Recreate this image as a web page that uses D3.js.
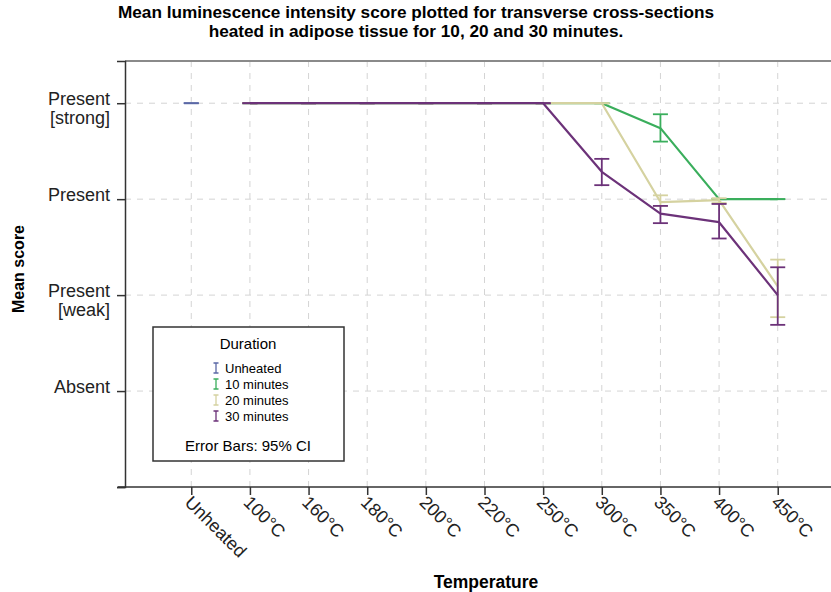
<!DOCTYPE html>
<html>
<head>
<meta charset="utf-8">
<script src="https://cdn.jsdelivr.net/npm/d3@7"></script>
<style>
  body { margin: 0; background: #fff; }
  svg { font-family: "Liberation Sans", Arial, sans-serif; }
</style>
</head>
<body>
<div id="chart"></div>
<script>
// categories on the x axis
const categories = ['Unheated', '100°C', '160°C', '180°C', '200°C', '220°C', '250°C', '300°C', '350°C', '400°C', '450°C'];
const heated = categories.slice(1);

// y tick labels (score 0..3)
const scoreLabels = [
    { value: 3, lines: ['Present', '[strong]'] },
    { value: 2, lines: ['Present'] },
    { value: 1, lines: ['Present', '[weak]'] },
    { value: 0, lines: ['Absent'] },
    { value: -1, lines: [] }
];

// mean scores and 95% CI
const unheatedMean = [3];
const unheatedLow = [3];
const unheatedHigh = [3];

const tenMean = [3, 3, 3, 3, 3, 3, 3, 2.74, 2, 2];
const tenLow = [3, 3, 3, 3, 3, 3, 3, 2.60, 2, 2];
const tenHigh = [3, 3, 3, 3, 3, 3, 3, 2.885, 2, 2];

const twentyMean = [3, 3, 3, 3, 3, 3, 3, 1.97, 1.99, 1.09];
const twentyLow = [3, 3, 3, 3, 3, 3, 3, 1.93, 1.96, 0.77];
const twentyHigh = [3, 3, 3, 3, 3, 3, 3, 2.04, 2.01, 1.37];

const thirtyMean = [3, 3, 3, 3, 3, 3, 2.285, 1.85, 1.76, 1.0];
const thirtyLow = [3, 3, 3, 3, 3, 3, 2.146, 1.75, 1.59, 0.69];
const thirtyHigh = [3, 3, 3, 3, 3, 3, 2.42, 1.93, 1.95, 1.29];

const seriesNames = ['Unheated', '10 minutes', '20 minutes', '30 minutes'];
const seriesColors = ['#5b68a6', '#3aae5c', '#d5d2a0', '#6c3279'];

const width = 831, height = 592;
const margin = { top: 61, left: 125, bottom: 487, right: 844 };

const svg = d3.select('#chart').append('svg')
    .attr('width', width)
    .attr('height', height);

// Build series list from the arrays
const series = [
    { name: seriesNames[0], color: seriesColors[0], cats: ['Unheated'], mean: unheatedMean, low: unheatedLow, high: unheatedHigh },
    { name: seriesNames[1], color: seriesColors[1], cats: heated, mean: tenMean, low: tenLow, high: tenHigh },
    { name: seriesNames[2], color: seriesColors[2], cats: heated, mean: twentyMean, low: twentyLow, high: twentyHigh },
    { name: seriesNames[3], color: seriesColors[3], cats: heated, mean: thirtyMean, low: thirtyLow, high: thirtyHigh }
].map(s => ({
    ...s,
    points: s.cats.map((c, i) => ({ cat: c, mean: s.mean[i], low: s.low[i], high: s.high[i] }))
}));

const x = d3.scalePoint()
    .domain(categories)
    .range([margin.left, margin.right])
    .padding(1.13);

const y = d3.scaleLinear()
    .domain([-1, 3.44])
    .range([margin.bottom, margin.top]);

// Grid lines
const grid = svg.append('g').attr('class', 'grid')
    .attr('stroke', '#d4d4d4')
    .attr('stroke-width', 1)
    .attr('stroke-dasharray', '6,6');

grid.selectAll('line.v')
    .data(categories)
    .join('line')
    .attr('class', 'v')
    .attr('x1', d => x(d)).attr('x2', d => x(d))
    .attr('y1', margin.top).attr('y2', margin.bottom);

grid.selectAll('line.h')
    .data(scoreLabels.filter(d => d.value >= 0))
    .join('line')
    .attr('class', 'h')
    .attr('x1', margin.left).attr('x2', width)
    .attr('y1', d => y(d.value)).attr('y2', d => y(d.value));

// Top frame line
svg.append('line')
    .attr('x1', margin.left).attr('x2', width)
    .attr('y1', margin.top).attr('y2', margin.top)
    .attr('stroke', '#8a8a8a')
    .attr('stroke-width', 2);

// Lines and error bars
const line = d3.line()
    .x(d => x(d.cat))
    .y(d => y(d.mean));

const capHalf = 7.5;

series.forEach(s => {
    const g = svg.append('g').attr('class', 'series');

    if (s.points.length > 1) {
        g.append('path')
            .datum(s.points)
            .attr('fill', 'none')
            .attr('stroke', s.color)
            .attr('stroke-width', 2.2)
            .attr('stroke-linejoin', 'round')
            .attr('d', line);
    }

    const bars = g.selectAll('g.bar')
        .data(s.points)
        .join('g')
        .attr('class', 'bar')
        .attr('stroke', s.color)
        .attr('stroke-width', 1.8);

    bars.append('line')
        .attr('x1', d => x(d.cat)).attr('x2', d => x(d.cat))
        .attr('y1', d => y(d.low)).attr('y2', d => y(d.high));

    bars.append('line')
        .attr('x1', d => x(d.cat) - capHalf).attr('x2', d => x(d.cat) + capHalf)
        .attr('y1', d => y(d.low)).attr('y2', d => y(d.low));

    bars.append('line')
        .attr('x1', d => x(d.cat) - capHalf).attr('x2', d => x(d.cat) + capHalf)
        .attr('y1', d => y(d.high)).attr('y2', d => y(d.high));
});

// Y axis
const yAxis = svg.append('g')
    .attr('transform', `translate(${margin.left},0)`)
    .call(d3.axisLeft(y)
        .tickValues(scoreLabels.map(d => d.value))
        .tickSize(8)
        .tickFormat(''));

yAxis.select('.domain').attr('stroke', '#333').attr('stroke-width', 1.5);
yAxis.selectAll('.tick line').attr('stroke', '#333').attr('stroke-width', 1.5);

const yLabels = svg.append('g');
scoreLabels.forEach(d => {
    const t = yLabels.append('text')
        .attr('text-anchor', 'end')
        .attr('font-size', 18)
        .attr('fill', '#222')
        .attr('x', 110)
        .attr('y', y(d.value) + 2);
    d.lines.forEach((ln, i) => {
        t.append('tspan')
            .attr('x', 110)
            .attr('dy', i === 0 ? 0 : 19)
            .text(ln);
    });
});

// X axis
const xAxis = svg.append('g')
    .attr('transform', `translate(0,${margin.bottom})`)
    .call(d3.axisBottom(x).tickSize(8).tickSizeOuter(0).tickFormat(''));

xAxis.select('.domain').attr('stroke', '#333').attr('stroke-width', 1.5)
    .attr('d', `M${margin.left - 7},0H${width}`);
xAxis.selectAll('.tick line').attr('stroke', '#333').attr('stroke-width', 1.5);

svg.append('g')
    .selectAll('text')
    .data(categories)
    .join('text')
    .attr('transform', d => `translate(${x(d) - 3},${margin.bottom + 12}) rotate(45)`)
    .attr('text-anchor', 'start')
    .attr('dy', '0.35em')
    .attr('font-size', 18)
    .attr('fill', '#222')
    .text(d => d);

// Axis titles
svg.append('text')
    .attr('x', 486)
    .attr('y', 588)
    .attr('text-anchor', 'middle')
    .attr('font-size', 17.5)
    .attr('font-weight', 'bold')
    .text('Temperature');

svg.append('text')
    .attr('transform', 'translate(24,269) rotate(-90)')
    .attr('text-anchor', 'middle')
    .attr('font-size', 16)
    .attr('font-weight', 'bold')
    .text('Mean score');

// Title
const title = svg.append('text')
    .attr('text-anchor', 'middle')
    .attr('font-size', 17.2)
    .attr('font-weight', 'bold');
title.append('tspan').attr('x', 416).attr('y', 18)
    .text('Mean luminescence intensity score plotted for transverse cross-sections');
title.append('tspan').attr('x', 416).attr('y', 37)
    .text('heated in adipose tissue for 10, 20 and 30 minutes.');

// Legend
const legend = svg.append('g').attr('transform', 'translate(153,327)');

legend.append('rect')
    .attr('width', 191)
    .attr('height', 134)
    .attr('fill', '#fff')
    .attr('stroke', '#333')
    .attr('stroke-width', 1.5);

legend.append('text')
    .attr('x', 95)
    .attr('y', 22)
    .attr('text-anchor', 'middle')
    .attr('font-size', 15)
    .text('Duration');

const items = legend.selectAll('g.item')
    .data(series)
    .join('g')
    .attr('class', 'item')
    .attr('transform', (d, i) => `translate(63,${41 + i * 16})`);

items.append('path')
    .attr('d', 'M-2.5,-5H2.5M0,-5V5M-2.5,5H2.5')
    .attr('stroke', d => d.color)
    .attr('stroke-width', 1.3)
    .attr('fill', 'none');

items.append('text')
    .attr('x', 9)
    .attr('y', 5)
    .attr('font-size', 13)
    .text(d => d.name);

legend.append('text')
    .attr('x', 95)
    .attr('y', 124)
    .attr('text-anchor', 'middle')
    .attr('font-size', 15)
    .text('Error Bars: 95% CI');
</script>
</body>
</html>
